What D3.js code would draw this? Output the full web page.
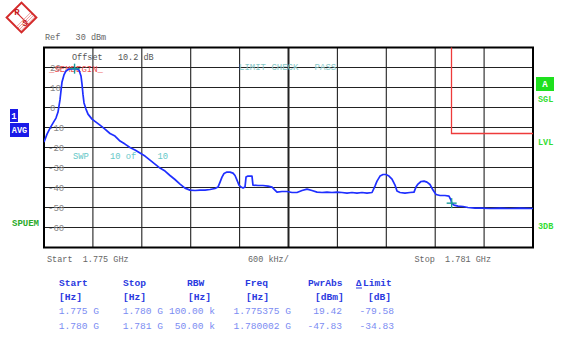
<!DOCTYPE html>
<html>
<head>
<meta charset="utf-8">
<script src="https://cdn.jsdelivr.net/npm/d3@7"></script>
<style>
  html, body { margin: 0; padding: 0; background: #fff; }
  svg { display: block; }
  text { font-family: "Liberation Mono", "DejaVu Sans Mono", monospace; }
</style>
</head>
<body>
<svg id="chart" width="564" height="347"></svg>
<script>
// Sweep: 1.775 GHz .. 1.781 GHz, frequency as offset from start in MHz
const startGHz = 1.775;
const stopGHz = 1.781;
const refLevel = 30;          // dBm, top of screen
const bottomLevel = -70;      // dBm, bottom of screen
const yTickValues = [20, 10, 0, -10, -20, -30, -40, -50, -60];
const xDivisions = [0, 0.6, 1.2, 1.8, 2.4, 3.0, 3.6, 4.2, 4.8, 5.4, 6.0];

// Trace 1 (AVG)
const traceOffsetMHz = [
  0.000, 0.037, 0.074, 0.110, 0.147, 0.172, 0.196, 0.221, 0.245, 0.270,
  0.307, 0.344, 0.375, 0.405, 0.429, 0.454, 0.466, 0.479, 0.491, 0.515,
  0.540, 0.589, 0.638, 0.687, 0.748, 0.810, 0.871, 0.933, 0.994, 1.055,
  1.117, 1.178, 1.239, 1.301, 1.362, 1.423, 1.485, 1.546, 1.607, 1.669,
  1.730, 1.791, 1.853, 1.914, 1.976, 2.037, 2.098, 2.135, 2.160, 2.184,
  2.209, 2.245, 2.282, 2.319, 2.344, 2.368, 2.393, 2.417, 2.442, 2.466,
  2.479, 2.503, 2.552, 2.564, 2.626, 2.687, 2.748, 2.798, 2.834, 2.859,
  2.920, 2.982, 3.043, 3.104, 3.166, 3.227, 3.288, 3.350, 3.411, 3.472,
  3.534, 3.595, 3.656, 3.718, 3.779, 3.840, 3.902, 3.963, 4.025, 4.061,
  4.086, 4.123, 4.160, 4.196, 4.233, 4.270, 4.307, 4.331, 4.368, 4.429,
  4.491, 4.540, 4.564, 4.589, 4.626, 4.663, 4.699, 4.736, 4.773, 4.810,
  4.859, 4.920, 4.969, 4.994, 5.002, 5.031, 5.080, 5.141, 5.202, 5.288,
  5.374, 5.472, 5.595, 5.718, 5.840, 6.000
];
const traceLevel = [
  -17.3, -13.3, -10.3, -7.8, -5.3, -2.3, 3.8, 12.8, 16.3, 18.3,
  19.2, 19.3, 19.42, 19.3, 18.8, 15.8, 11.8, 6.3, 2.3, -0.8,
  -3.3, -5.8, -7.3, -8.8, -10.8, -13.0, -14.3, -16.8, -18.3, -20.0,
  -21.3, -22.8, -24.3, -26.3, -28.3, -30.3, -31.8, -34.0, -36.0, -38.3,
  -40.3, -41.3, -41.5, -41.3, -41.3, -41.0, -40.5, -39.8, -37.3, -34.8,
  -33.0, -32.3, -32.3, -32.8, -34.0, -36.3, -38.8, -39.8, -40.3, -39.8,
  -34.8, -34.3, -34.3, -38.8, -39.0, -39.0, -39.3, -39.8, -41.3, -42.3,
  -42.0, -42.0, -42.5, -42.5, -41.5, -40.8, -41.5, -42.3, -42.5, -42.3,
  -42.5, -42.3, -42.5, -42.8, -42.5, -42.8, -42.5, -42.8, -42.5, -39.3,
  -36.8, -34.3, -33.5, -33.5, -34.3, -35.8, -38.8, -41.8, -42.5, -42.8,
  -42.5, -42.3, -39.8, -38.3, -37.0, -36.8, -37.3, -38.5, -41.3, -43.5,
  -44.0, -44.0, -44.3, -46.3, -47.83, -48.8, -49.3, -49.5, -50.0, -50.3,
  -50.3, -50.5, -50.3, -50.5, -50.3, -50.5
];

// Limit line (dBm); 99 dBm lies above the screen
const limitOffsetMHz = [0, 5.0, 5.0, 6.0];
const limitLevel = [99, 99, -13, -13];

// Peak search table
const tableHeaders = ["Start", "Stop", "RBW", "Freq", "PwrAbs", "Limit"];
const tableUnits = ["[Hz]", "[Hz]", "[Hz]", "[Hz]", "[dBm]", "[dB]"];
const rangeStart = ["1.775 G", "1.780 G"];
const rangeStop = ["1.780 G", "1.781 G"];
const rangeRbw = ["100.00 k", "50.00 k"];
const peakFreqGHz = [1.775375, 1.780002];
const peakPwr = [19.42, -47.83];
const deltaLimit = [-79.58, -34.83];

const svg = d3.select("#chart");
const plot = { left: 44, right: 533, top: 47.5, bottom: 247.5 };

const x = d3.scaleLinear().domain([0, (stopGHz - startGHz) * 1000]).range([plot.left, plot.right]);
const y = d3.scaleLinear().domain([bottomLevel, refLevel]).range([plot.bottom, plot.top]);

svg.append("defs").append("clipPath").attr("id", "plotClip")
  .append("rect")
  .attr("x", plot.left).attr("y", plot.top)
  .attr("width", plot.right - plot.left).attr("height", plot.bottom - plot.top);

// ---- Rohde & Schwarz logo ----
const logo = svg.append("g").attr("transform", "translate(21.5,17.5) rotate(45)");
logo.append("rect").attr("x", -10.5).attr("y", -10.5).attr("width", 21).attr("height", 21)
  .attr("fill", "#fff").attr("stroke", "#d42a2a").attr("stroke-width", 2);
logo.append("line").attr("x1", -10.5).attr("x2", 10.5).attr("y1", 0).attr("y2", 0)
  .attr("stroke", "#d42a2a").attr("stroke-width", 1.2);
for (let i = 0; i < 4; i++) {
  logo.append("line").attr("x1", 3 + i * 2).attr("x2", 3 + i * 2).attr("y1", -10).attr("y2", 10)
    .attr("stroke", "#e06060").attr("stroke-width", 0.6);
}
svg.append("text").attr("x", 17).attr("y", 15).attr("fill", "#c81e1e")
  .attr("font-size", 9).attr("font-weight", "bold").attr("text-anchor", "middle").text("R");
svg.append("text").attr("x", 25).attr("y", 26).attr("fill", "#c81e1e")
  .attr("font-size", 9).attr("font-weight", "bold").attr("text-anchor", "middle").text("S");

// ---- Header text ----
svg.append("text").attr("x", 45).attr("y", 40).attr("fill", "#666").attr("font-size", 8.5)
  .attr("xml:space", "preserve").text("Ref   30 dBm");

// ---- Grid ----
const grid = svg.append("g");
grid.selectAll("line.h").data(yTickValues).join("line")
  .attr("x1", plot.left).attr("x2", plot.right)
  .attr("y1", d => y(d)).attr("y2", d => y(d))
  .attr("stroke", "#222").attr("stroke-width", 1.1);
grid.selectAll("line.v").data(xDivisions.slice(1, -1)).join("line")
  .attr("x1", d => x(d)).attr("x2", d => x(d))
  .attr("y1", plot.top).attr("y2", plot.bottom)
  .attr("stroke", "#222").attr("stroke-width", d => d === 3.0 ? 2 : 1.1);

// Level labels sit on their grid lines
grid.selectAll("text.yl").data(yTickValues).join("text")
  .attr("x", d => d < 0 ? 48 : 50).attr("y", d => y(d) + 3)
  .attr("fill", "#888").attr("font-size", 9)
  .text(d => d < 0 ? "-" + Math.abs(d) : d);

// Frame
svg.append("rect").attr("x", plot.left).attr("y", plot.top)
  .attr("width", plot.right - plot.left).attr("height", plot.bottom - plot.top)
  .attr("fill", "none").attr("stroke", "#000").attr("stroke-width", 2);

// ---- In-screen annotations ----
svg.append("text").attr("x", 72).attr("y", 60).attr("fill", "#555").attr("font-size", 8.5)
  .attr("xml:space", "preserve").text("Offset   10.2 dB");
svg.append("text").attr("x", 239).attr("y", 70).attr("fill", "#88c8c8").attr("font-size", 9)
  .attr("xml:space", "preserve").text("LIMIT CHECK   PASS");
svg.append("text").attr("x", 73).attr("y", 159).attr("fill", "#66c8c8").attr("font-size", 8.8)
  .attr("xml:space", "preserve").text("SWP    10 of    10");

// Limit line and its label
const limitPts = limitOffsetMHz.map((f, i) => [f, limitLevel[i]]);
svg.append("path").datum(limitPts)
  .attr("clip-path", "url(#plotClip)")
  .attr("d", d3.line().x(d => x(d[0])).y(d => y(d[1])))
  .attr("fill", "none").attr("stroke", "#ee3b3b").attr("stroke-width", 1.3);
svg.append("text").attr("x", 49).attr("y", 72).attr("fill", "#ee5050").attr("font-size", 9)
  .attr("xml:space", "preserve").text("_SEMBEGIN_");

// ---- Trace ----
const tracePts = traceOffsetMHz.map((f, i) => [f, traceLevel[i]]);
svg.append("path").datum(tracePts)
  .attr("clip-path", "url(#plotClip)")
  .attr("d", d3.line().x(d => x(d[0])).y(d => y(d[1])))
  .attr("fill", "none").attr("stroke", "#1f2fff").attr("stroke-width", 1.7)
  .attr("stroke-linejoin", "round");

// Peak markers
const markers = peakFreqGHz.map((f, i) => [(f - startGHz) * 1000, peakPwr[i]]);
const mk = svg.append("g").selectAll("g").data(markers).join("g")
  .attr("transform", d => `translate(${x(d[0])},${y(d[1])})`);
mk.append("line").attr("x1", -5).attr("x2", 5).attr("y1", 0).attr("y2", 0)
  .attr("stroke", "#1a9a9a").attr("stroke-width", 1.4);
mk.append("line").attr("x1", 0).attr("x2", 0).attr("y1", -5).attr("y2", 5)
  .attr("stroke", "#1a9a9a").attr("stroke-width", 1.4);

// ---- Side indicators ----
svg.append("rect").attr("x", 10).attr("y", 109).attr("width", 8).attr("height", 13).attr("fill", "#1a1ae8");
svg.append("text").attr("x", 14).attr("y", 119).attr("fill", "#fff").attr("font-size", 9)
  .attr("font-weight", "bold").attr("text-anchor", "middle").text("1");
svg.append("rect").attr("x", 10).attr("y", 123).attr("width", 19).attr("height", 14).attr("fill", "#1a1ae8");
svg.append("text").attr("x", 19.5).attr("y", 133).attr("fill", "#fff").attr("font-size", 8.5)
  .attr("font-weight", "bold").attr("text-anchor", "middle").text("AVG");
svg.append("text").attr("x", 12).attr("y", 226).attr("fill", "#2aaa2a").attr("font-size", 9)
  .attr("font-weight", "bold").text("SPUEM");

svg.append("rect").attr("x", 536).attr("y", 77).attr("width", 18).attr("height", 14).attr("fill", "#1ee01e");
svg.append("text").attr("x", 545).attr("y", 87).attr("fill", "#fff").attr("font-size", 9)
  .attr("font-weight", "bold").attr("text-anchor", "middle").text("A");
[["SGL", 102], ["LVL", 145], ["3DB", 229]].forEach(([t, yy]) => {
  svg.append("text").attr("x", 538).attr("y", yy).attr("fill", "#33dd33").attr("font-size", 8.5)
    .attr("font-weight", "bold").text(t);
});

// ---- Frequency axis text ----
svg.append("text").attr("x", 47).attr("y", 262).attr("fill", "#666").attr("font-size", 8.5)
  .attr("xml:space", "preserve").text(`Start  ${startGHz.toFixed(3)} GHz`);
svg.append("text").attr("x", 248).attr("y", 262).attr("fill", "#666").attr("font-size", 8.5)
  .text(`${Math.round((stopGHz - startGHz) * 1e6 / 10)} kHz/`);
svg.append("text").attr("x", 491).attr("y", 262).attr("fill", "#666").attr("font-size", 8.5)
  .attr("text-anchor", "end").attr("xml:space", "preserve").text(`Stop  ${stopGHz.toFixed(3)} GHz`);

// ---- Peak list table ----
const headX = [59, 123, 187, 245, 308, 363];
const unitX = [59, 123, 188, 246, 315, 368];
const colRight = [99, 163, 215, 291, 342, 394];
const tbl = svg.append("g").attr("font-size", 9.6);
tbl.selectAll("text.h").data(tableHeaders).join("text")
  .attr("x", (d, i) => headX[i]).attr("y", 286)
  .attr("fill", "#2a3ae0").attr("font-weight", "bold").text(d => d);
tbl.append("text").attr("x", 356).attr("y", 286).attr("fill", "#2a3ae0").attr("font-weight", "bold")
  .attr("font-size", 9).text("\u0394");
tbl.append("line").attr("x1", 356).attr("x2", 362).attr("y1", 288).attr("y2", 288)
  .attr("stroke", "#2a3ae0").attr("stroke-width", 1);
tbl.selectAll("text.u").data(tableUnits).join("text")
  .attr("x", (d, i) => unitX[i]).attr("y", 300)
  .attr("fill", "#2a3ae0").attr("font-weight", "bold").text(d => d);

const rows = rangeStart.map((s, i) => [
  s, rangeStop[i], rangeRbw[i], peakFreqGHz[i].toFixed(6) + " G",
  peakPwr[i].toFixed(2), deltaLimit[i].toFixed(2)
]);
rows.forEach((r, ri) => {
  tbl.append("g").selectAll("text").data(r).join("text")
    .attr("x", (d, i) => colRight[i]).attr("y", 314 + ri * 15)
    .attr("text-anchor", "end").attr("fill", "#7b8cf2").text(d => d);
});
</script>
</body>
</html>
